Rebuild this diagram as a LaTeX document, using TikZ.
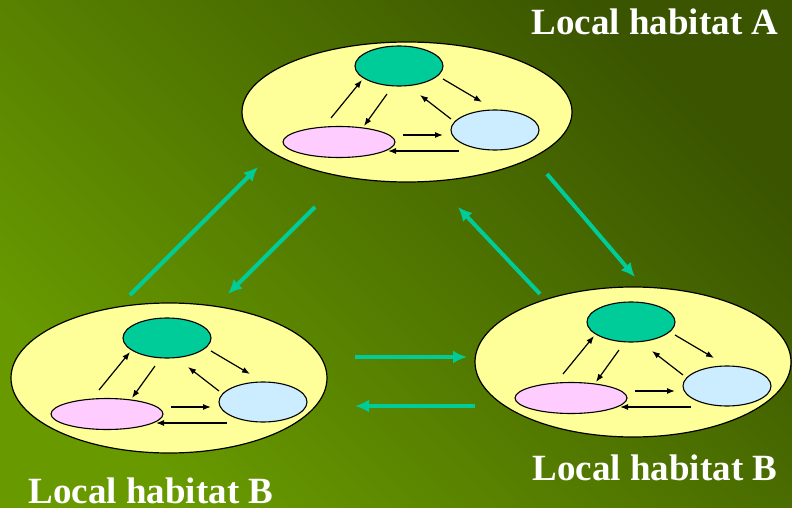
\documentclass[tikz,border=0pt]{standalone}
\usepackage{fontspec}
\setmainfont{Liberation Serif}
\usetikzlibrary{arrows.meta,shapes.geometric,calc}

\definecolor{popgreen}{HTML}{00CC99}
\definecolor{poppink}{HTML}{FFCCFF}
\definecolor{popblue}{HTML}{CCECFF}
\definecolor{patch}{HTML}{FFFF99}
\definecolor{bglight}{HTML}{689A00}
\definecolor{bgdark}{HTML}{3A5400}

\tikzset{
  habitat/.style={ellipse,draw=black,line width=1.2pt,fill=patch,inner sep=0pt},
  grpop/.style={ellipse,draw=black,line width=1.1pt,fill=popgreen,inner sep=0pt,minimum width=88pt,minimum height=40pt},
  pkpop/.style={ellipse,draw=black,line width=1.1pt,fill=poppink,inner sep=0pt,minimum width=112pt,minimum height=31pt},
  blpop/.style={ellipse,draw=black,line width=1.1pt,fill=popblue,inner sep=0pt,minimum width=88pt,minimum height=40pt},
  web/.style={-{Latex[length=8pt,width=6pt]},line width=1.2pt},
  flow/.style={-{Latex[length=14pt,width=13pt]},line width=4pt,draw=popgreen},
  title/.style={text=white,font=\fontsize{37}{42}\selectfont\bfseries,anchor=base}
}

% food web inside one habitat, #1 = prefix, (#2,#3) = green population
\newcommand{\foodweb}[3]{%
  \node[grpop] (#1t) at (#2,#3) {};
  \node[pkpop] (#1p) at ($(#1t)+(-60,76)$) {};
  \node[blpop] (#1b) at ($(#1t)+(96,64)$) {};
  \draw[web] ($(#1p)+(-8,-24)$) -- ($(#1t)+(-37,14)$);
  \draw[web] ($(#1t)+(-12,28)$) -- ($(#1p)+(25,-16)$);
  \draw[web] ($(#1t)+(44,13)$) -- ($(#1b)+(-13,-28)$);
  \draw[web] ($(#1b)+(-44,-11)$) -- ($(#1t)+(21,29)$);
  \draw[web] ($(#1p)+(64,-7)$) -- ($(#1b)+(-52,5)$);
  \draw[web] ($(#1b)+(-36,21)$) -- ($(#1p)+(49,9)$);
}

\begin{document}
\begin{tikzpicture}[x=1pt,y=-1pt]
  \useasboundingbox (0,0) rectangle (792,508);
  \shade[bottom color=bglight,top color=bgdark,shading angle=-45] (0,0) rectangle (792,508);

  % the three habitats
  \node[habitat,minimum width=330pt,minimum height=140pt] (hA) at (407,112) {};
  \node[habitat,minimum width=316pt,minimum height=150pt] (hL) at (169,378) {};
  \node[habitat,minimum width=316pt,minimum height=150pt] (hR) at (633,362) {};
  \foodweb{a}{399}{66}
  \foodweb{l}{167}{338}
  \foodweb{r}{631}{322}

  % dispersal between habitats
  \draw[flow] ($(hL)+(-39,-83)$) -- ($(hA)+(-149,55)$);
  \draw[flow] ($(hA)+(-92,95)$) -- ($(hL)+(59,-84)$);
  \draw[flow] ($(hR)+(-93,-68)$) -- ($(hA)+(51,95)$);
  \draw[flow] ($(hA)+(140,62)$) -- ($(hR)+(2,-85)$);
  \draw[flow] ($(hL)+(186,-21)$) -- ($(hR)+(-166,-5)$);
  \draw[flow] ($(hR)+(-158,44)$) -- ($(hL)+(186,28)$);

  \node[title] (tA) at (655,35) {Local habitat A};
  \node[title] (tR) at (655,480) {Local habitat B};
  \node[title] (tL) at (151,503) {Local habitat B};
\end{tikzpicture}
\end{document}
